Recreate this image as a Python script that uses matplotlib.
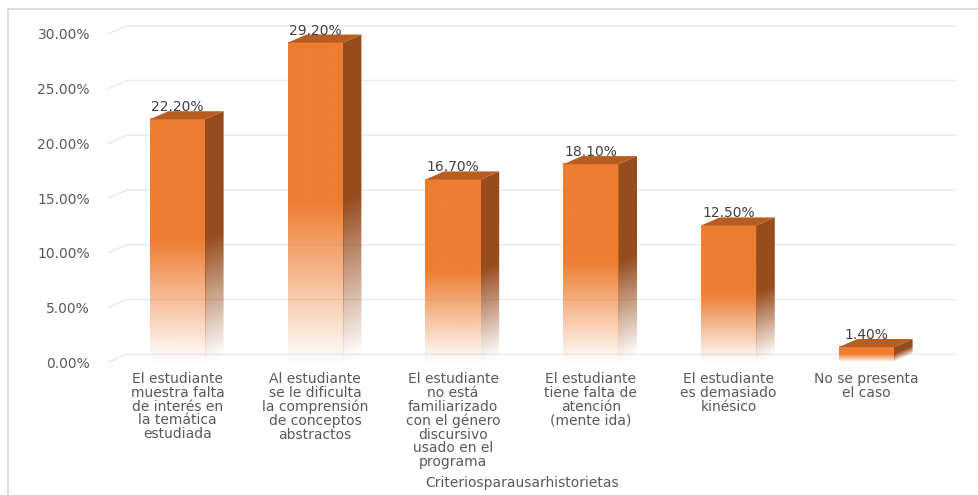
import numpy as np
import matplotlib
matplotlib.use('Agg')
import matplotlib.pyplot as plt
from matplotlib.patches import Polygon
from matplotlib.lines import Line2D
from matplotlib.colors import to_rgb

# datos del grafico
categorias = ['El estudiante\nmuestra falta\nde interés en\nla temática\nestudiada',
              'Al estudiante\nse le dificulta\nla comprensión\nde conceptos\nabstractos',
              'El estudiante\nno está\nfamiliarizado\ncon el género\ndiscursivo\nusado en el\nprograma',
              'El estudiante\ntiene falta de\natención\n(mente ida)',
              'El estudiante\nes demasiado\nkinésico',
              'No se presenta\nel caso']
porcentajes = [22.2, 29.2, 16.7, 18.1, 12.5, 1.4]
ticks_y = [0, 5, 10, 15, 20, 25, 30]
etiquetas_y = ['%.2f%%' % t for t in ticks_y]
titulo_x = 'Criteriosparausarhistorietas'

naranja = '#ED7D31'
lateral = '#984C1D'
tapa = '#B85D21'
gris = '#595959'

W, H = 979, 495
fig = plt.figure(figsize=(W / 100, H / 100), dpi=100)

# escala en pixeles: cero en y=362.4, 10.95 px por punto porcentual
py = 10.95
y0 = 362.4
ymin, ymax = -0.5, 31.0
abajo = y0 - ymin * py
arriba = y0 - ymax * py
ax = fig.add_axes([108 / W, (H - abajo) / H, (956 - 108) / W, (abajo - arriba) / H])
xmin, xmax = -0.504, 5.65

# profundidad del efecto 3D (en unidades de datos)
dx = 0.135
dy = 0.74
ancho = 0.4


def alfa(f):
    return np.clip(f / 0.5, 0.02, 1.0)


def degradado(color, a):
    rgb = np.array(to_rgb(color))
    img = np.zeros(a.shape + (4,))
    img[..., :3] = rgb
    img[..., 3] = a
    return img


# lineas de la cuadricula con el tramo inclinado del piso
for t in ticks_y:
    ax.plot([xmin, xmin + dx, xmax], [t, t + dy, t + dy], color='#EBEBEB',
            lw=1.1, zorder=0, solid_capstyle='butt')

for i, v in enumerate(porcentajes):
    x0 = i - ancho / 2
    x1 = i + ancho / 2

    # cara frontal
    f = (np.arange(300) + 0.5) / 300
    img = degradado(naranja, alfa(f)[:, None])
    ax.imshow(img, extent=[x0, x1, 0, v], origin='lower', aspect='auto',
              interpolation='bilinear', zorder=2)

    # cara lateral
    ny, nx = 300, 30
    s = (np.arange(nx) + 0.5) / nx
    yy = (np.arange(ny) + 0.5) / ny * (v + dy)
    fs = (yy[:, None] - dy * s[None, :]) / v
    img = degradado(lateral, alfa(fs))
    im = ax.imshow(img, extent=[x1, x1 + dx, 0, v + dy], origin='lower',
                   aspect='auto', interpolation='bilinear', zorder=2)
    lado = Polygon([(x1, 0), (x1 + dx, dy), (x1 + dx, v + dy), (x1, v)],
                   closed=True, facecolor='none', edgecolor='none')
    ax.add_patch(lado)
    im.set_clip_path(lado)

    # tapa superior
    ax.add_patch(Polygon([(x0, v), (x0 + dx, v + dy), (x1 + dx, v + dy), (x1, v)],
                         closed=True, facecolor=tapa, edgecolor='none', zorder=3))

    ax.text(i, v + 1.1, '%.2f%%' % v, ha='center', va='center',
            fontsize=10, color='#404040', zorder=4)

ax.set_xlim(xmin, xmax)
ax.set_ylim(ymin, ymax)
ax.set_yticks(ticks_y)
ax.set_yticklabels(etiquetas_y)
ax.set_xticks(range(len(categorias)))
ax.set_xticklabels(categorias, linespacing=0.98)
ax.tick_params(axis='y', length=0, pad=13, labelsize=10, labelcolor=gris)
ax.tick_params(axis='x', length=0, pad=3, labelsize=10, labelcolor=gris)
for sp in ax.spines.values():
    sp.set_visible(False)

ax.set_xlabel(titulo_x, fontsize=10, color=gris)
ax.xaxis.set_label_coords((522 - 108) / (956 - 108), -(482.5 - abajo) / (abajo - arriba))
ax.xaxis.label.set_va('center')

# marco del area del grafico
fig.add_artist(Line2D([8.5 / W, 8.5 / W], [0, 1 - 8.5 / H], color='#D9D9D9', lw=1.3))
fig.add_artist(Line2D([8.5 / W, 1], [1 - 8.5 / H, 1 - 8.5 / H], color='#D9D9D9', lw=1.3))

fig.savefig('out.png', dpi=100)
